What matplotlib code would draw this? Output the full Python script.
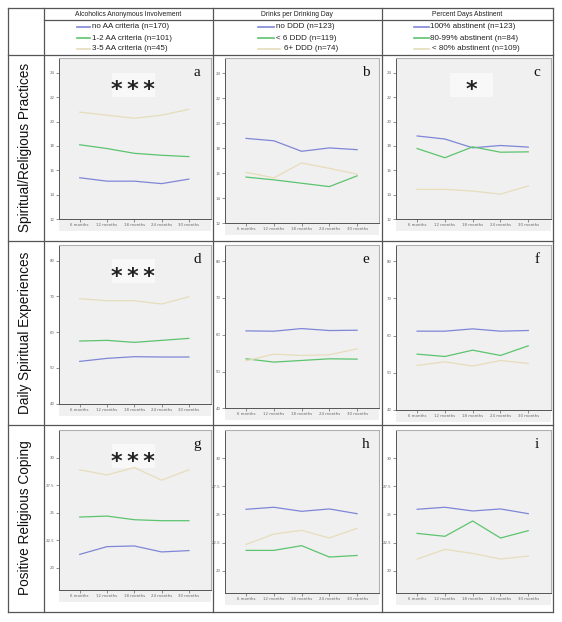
import matplotlib
matplotlib.use("Agg")
import matplotlib.pyplot as plt
from matplotlib.patches import Rectangle
from matplotlib.lines import Line2D

# data
months = ["6 months", "12 months", "18 months", "24 months", "30 months"]

col_titles = ["Alcoholics Anonymous Involvement", "Drinks per Drinking Day", "Percent Days Abstinent"]
legend_labels = [
    ["no AA criteria (n=170)", "1-2 AA criteria (n=101)", "3-5 AA criteria (n=45)"],
    ["no DDD (n=123)", "< 6 DDD (n=119)", "6+ DDD (n=74)"],
    ["100% abstinent (n=123)", "80-99% abstinent (n=84)", "< 80% abstinent (n=109)"],
]
row_titles = ["Spiritual/Religious Practices", "Daily Spiritual Experiences", "Positive Religious Coping"]
panel_letters = ["a", "b", "c", "d", "e", "f", "g", "h", "i"]
stars = ["***", "", "*", "***", "", "", "***", "", ""]

# practices
a_low = [15.40, 15.12, 15.12, 14.92, 15.29]
a_mid = [18.10, 17.79, 17.40, 17.24, 17.13]
a_high = [20.77, 20.52, 20.27, 20.52, 21.00]
b_low = [18.78, 18.59, 17.75, 18.02, 17.88]
b_mid = [15.69, 15.47, 15.20, 14.93, 15.79]
b_high = [16.07, 15.63, 16.82, 16.39, 15.93]
c_low = [18.82, 18.57, 17.85, 18.04, 17.91]
c_mid = [17.79, 17.04, 17.93, 17.49, 17.52]
c_high = [14.45, 14.45, 14.31, 14.06, 14.73]
# daily experiences
d_low = [51.84, 52.68, 53.15, 53.06, 53.06]
d_mid = [57.53, 57.72, 57.16, 57.72, 58.28]
d_high = [69.37, 68.81, 68.81, 67.88, 69.93]
e_low = [61.05, 60.96, 61.68, 61.14, 61.23]
e_mid = [53.46, 52.56, 53.01, 53.46, 53.37]
e_high = [52.92, 54.72, 54.36, 54.54, 56.17]
f_low = [61.17, 61.17, 61.79, 61.17, 61.35]
f_mid = [54.98, 54.35, 56.05, 54.62, 57.22]
f_high = [51.93, 52.91, 51.75, 53.27, 52.47]
# coping
g_low = [21.23, 21.93, 21.99, 21.45, 21.57]
g_mid = [24.61, 24.70, 24.37, 24.28, 24.28]
g_high = [28.89, 28.43, 29.10, 27.95, 28.89]
h_low = [25.46, 25.64, 25.28, 25.49, 25.07]
h_mid = [21.81, 21.81, 22.23, 21.22, 21.36]
h_high = [22.34, 23.26, 23.59, 22.91, 23.77]
i_low = [25.46, 25.64, 25.31, 25.49, 25.07]
i_mid = [23.32, 23.06, 24.42, 22.91, 23.56]
i_high = [21.04, 21.90, 21.54, 21.04, 21.31]

panels = [
    (a_low, a_mid, a_high), (b_low, b_mid, b_high), (c_low, c_mid, c_high),
    (d_low, d_mid, d_high), (e_low, e_mid, e_high), (f_low, f_mid, f_high),
    (g_low, g_mid, g_high), (h_low, h_mid, h_high), (i_low, i_mid, i_high),
]
row_ticks = [[12, 14, 16, 18, 20, 22, 24], [40, 50, 60, 70, 80], [20, 22.5, 25, 27.5, 30]]
row_tick_labels = [["12", "14", "16", "18", "20", "22", "24"],
                   ["40", "50", "60", "70", "80"],
                   ["20", "22.5", "25", "27.5", "30"]]
row_ylim = [(12, 25.2), (40, 84.4), (18, 32.5)]

colors = ["#7f86d6", "#5cc46e", "#e6ddbb"]
W, H = 562, 622

fig = plt.figure(figsize=(W / 100, H / 100), dpi=100)
fig.patch.set_facecolor("white")


def fx(x):
    return x / W


def fy(y):
    return 1 - y / H


def hline(x0, x1, y, c="#555555", lw=0.9):
    fig.add_artist(Line2D([fx(x0), fx(x1)], [fy(y), fy(y)], color=c, lw=lw))


def vline(x, y0, y1, c="#555555", lw=0.9):
    fig.add_artist(Line2D([fx(x), fx(x)], [fy(y0), fy(y1)], color=c, lw=lw))


# table grid
col_x = [8, 44, 212.5, 381.5, 552.5]
hline(8, 552.5, 8)
hline(44, 552.5, 20)
for y in [55, 241, 425, 612]:
    hline(8, 552.5, y)
for x in col_x:
    vline(x, 8, 612)

# header
leg_line_x = [77, 257.5, 414]
leg_text_x = [[91.5, 91.5, 91.5], [276, 276, 284], [430, 430, 432]]
leg_line_len = [[13, 13, 13], [16, 16, 22], [15, 15, 15]]
for j in range(3):
    cx = (col_x[j + 1] + col_x[j + 2]) / 2
    fig.text(fx(cx), fy(14), col_titles[j], ha="center", va="center",
             fontsize=4.9, family="Liberation Sans", color="#222222")
    lx = leg_line_x[j]
    for k in range(3):
        yy = [27, 38, 49][k]
        fig.add_artist(Line2D([fx(lx), fx(lx + leg_line_len[j][k])], [fy(yy), fy(yy)],
                              color=colors[k], lw=1.2))
        fig.text(fx(leg_text_x[j][k]), fy(yy), legend_labels[j][k], ha="left", va="center",
                 fontsize=5.8, family="Liberation Sans", color="#222222")

# row titles
row_mid = [147, 333, 518]
for r in range(3):
    fig.text(fx(25), fy(row_mid[r]), row_titles[r], rotation=90, ha="center", va="center",
             fontsize=9.8, family="Liberation Sans", color="#111111")

lefts = [59, 225, 396]
rights = [210.7, 379.3, 550.5]
tops = [58, 245, 430]
bottoms = [[219.3, 223.3, 219.3], [403.7, 408.3, 409.7], [590, 593.3, 593.3]]

for r in range(3):
    for c in range(3):
        idx = r * 3 + c
        l, rt, t, b = lefts[c], rights[c], tops[r], bottoms[r][c]
        # chart background strip under the axis
        fig.add_artist(Rectangle((fx(l), fy(b + 12)), fx(rt - l), fy(b) - fy(b + 12),
                                 facecolor="#f0f0f0", edgecolor="none", zorder=0))
        ax = fig.add_axes([fx(l), fy(b), fx(rt - l), fy(t) - fy(b)])
        ax.set_facecolor("#f0f0f0")
        xs = list(range(len(months)))
        for k, series in enumerate(panels[idx]):
            ax.plot(xs, series, color=colors[k], lw=0.9)
        ax.set_xlim(-0.76, 4.8)
        ax.set_ylim(*row_ylim[r])
        ax.set_xticks(xs)
        ax.set_xticklabels(months)
        ax.set_yticks(row_ticks[r])
        ax.set_yticklabels(row_tick_labels[r])
        ax.tick_params(labelsize=2.8, length=2, width=0.5, colors="#666666", pad=1)
        for s in ["left", "bottom"]:
            ax.spines[s].set_color("#555555")
            ax.spines[s].set_linewidth(0.7)
        for s in ["top", "right"]:
            ax.spines[s].set_color("#b0b0b0")
            ax.spines[s].set_linewidth(0.8)
        ax.text(0.91, 0.91, panel_letters[idx], transform=ax.transAxes, ha="center", va="center",
                fontsize=11, family="Liberation Serif", color="#111111")
        if stars[idx]:
            ax.add_patch(Rectangle((0.35, 0.76), 0.28, 0.15, transform=ax.transAxes,
                                   facecolor="#f8f8f8", edgecolor="none", zorder=1))
            ax.text(0.49, 0.80, "\u2009".join(stars[idx]), transform=ax.transAxes,
                    ha="center", va="center", fontsize=16, family="DejaVu Sans",
                    fontweight="bold", color="#222222", zorder=3)

fig.savefig("out.png", dpi=100)
